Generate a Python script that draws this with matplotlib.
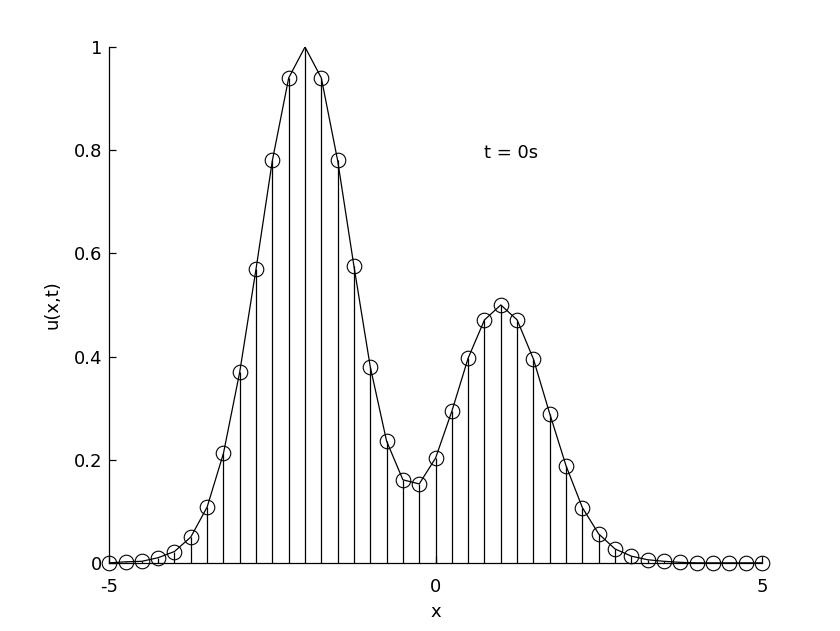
import numpy as np
import matplotlib
matplotlib.use("Agg")
import matplotlib.pyplot as plt

plt.rcParams["font.family"] = ["DejaVu Sans"]
plt.rcParams["axes.unicode_minus"] = False

# grid points, step 0.25
x = np.arange(-5, 5.001, 0.25)
# u(x, t=0)
u = [0.0, 0.002, 0.003, 0.010, 0.022, 0.050, 0.108, 0.212, 0.370, 0.570,
     0.780, 0.940, 1.000, 0.940, 0.780, 0.575, 0.380, 0.236, 0.161, 0.153,
     0.203, 0.294, 0.397, 0.471, 0.500, 0.471, 0.395, 0.289, 0.188, 0.107,
     0.056, 0.027, 0.013, 0.006, 0.003, 0.001, 0.0, 0.0, 0.0, 0.0, 0.0]
u = np.array(u)
label = "t = 0s"

fig = plt.figure(figsize=(8.4, 6.31), dpi=100)
ax = fig.add_axes([0.13, 0.108, 0.777, 0.8175])

ax.vlines(x, 0, u, colors="k", linewidth=0.9)
ax.plot(x, u, color="k", linewidth=0.9)
# no circle at the clipped peak
keep = u < 0.999
ax.plot(x[keep], u[keep], "o", mfc="none", mec="k", ms=10.5, mew=0.8,
        clip_on=False)

ax.set_xlim(-5, 5)
ax.set_ylim(0, 1)
ax.set_xticks([-5, 0, 5])
ax.set_yticks([0, 0.2, 0.4, 0.6, 0.8, 1])
ax.set_yticklabels(["0", "0.2", "0.4", "0.6", "0.8", "1"])
ax.spines["top"].set_visible(False)
ax.spines["right"].set_visible(False)
for s in ("left", "bottom"):
    ax.spines[s].set_linewidth(0.9)
ax.tick_params(direction="in", length=5, width=0.9, labelsize=13)
ax.tick_params(axis="x", pad=11)
ax.tick_params(axis="y", pad=5)

ax.text(0.75, 0.795, label, fontsize=13, ha="left", va="center")
ax.set_xlabel("x", fontsize=13, labelpad=5)
ax.set_ylabel("u(x,t)", fontsize=13, labelpad=9)

fig.savefig("out.png", dpi=100)
